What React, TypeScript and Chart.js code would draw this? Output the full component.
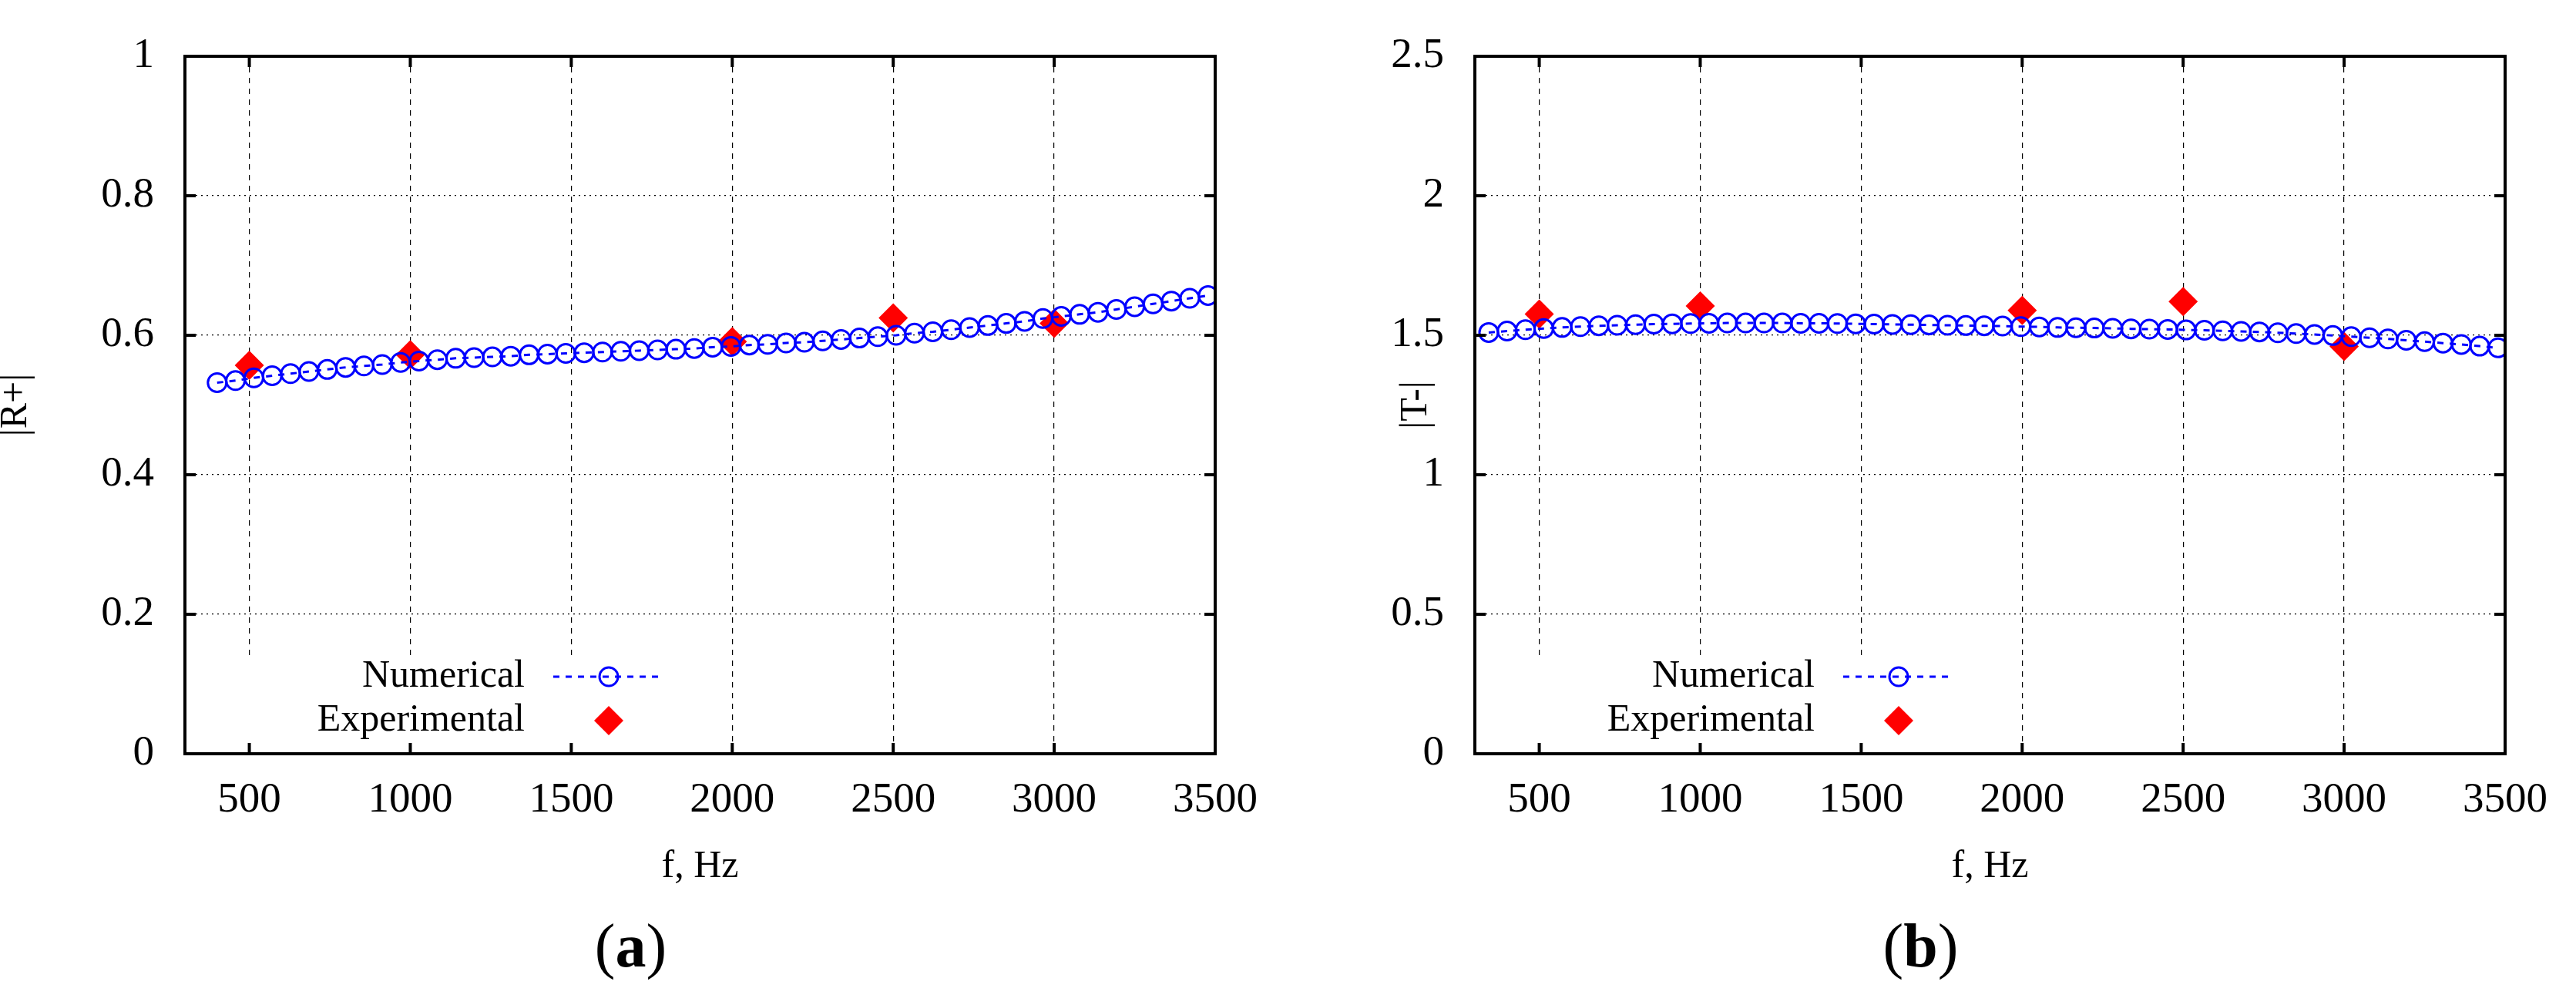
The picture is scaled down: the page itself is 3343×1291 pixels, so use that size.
import React, { useEffect, useRef } from "react";
import { Chart, registerables } from "chart.js";
Chart.register(...registerables);

const xTicks = [500, 1000, 1500, 2000, 2500, 3000, 3500];

const freqA = [400,457,514,571,628,685,742,799,856,913,970,1027,1084,1141,1198,1255,1312,1369,1426,1483,1540,1597,1654,1711,1768,1825,1882,1939,1996,2053,2110,2167,2224,2281,2338,2395,2452,2509,2566,2623,2680,2737,2794,2851,2908,2965,3022,3079,3136,3193,3250,3307,3364,3421,3478];
const numA = [0.532,0.535,0.539,0.542,0.545,0.548,0.551,0.554,0.556,0.558,0.561,0.563,0.565,0.567,0.568,0.569,0.570,0.572,0.573,0.574,0.575,0.576,0.577,0.578,0.579,0.580,0.581,0.583,0.584,0.586,0.587,0.589,0.590,0.592,0.594,0.596,0.598,0.600,0.603,0.605,0.608,0.611,0.614,0.617,0.620,0.624,0.627,0.630,0.633,0.637,0.641,0.645,0.649,0.653,0.657];

const freqB = [343,400,457,514,571,628,685,742,799,856,913,970,1027,1084,1141,1198,1255,1312,1369,1426,1483,1540,1597,1654,1711,1768,1825,1882,1939,1996,2053,2110,2167,2224,2281,2338,2395,2452,2509,2566,2623,2680,2737,2794,2851,2908,2965,3022,3079,3136,3193,3250,3307,3364,3421,3478];
const numB = [1.510,1.515,1.520,1.524,1.528,1.531,1.534,1.536,1.538,1.540,1.541,1.542,1.543,1.544,1.544,1.544,1.544,1.543,1.543,1.542,1.541,1.540,1.539,1.538,1.537,1.536,1.535,1.534,1.533,1.531,1.530,1.528,1.527,1.526,1.525,1.523,1.522,1.521,1.519,1.518,1.516,1.514,1.512,1.509,1.506,1.503,1.499,1.495,1.491,1.487,1.482,1.477,1.472,1.467,1.461,1.455];

const expFreq = [500, 1000, 2000, 2500, 3000];
const expA = [0.557, 0.572, 0.591, 0.625, 0.617];
const expB = [1.576, 1.605, 1.589, 1.621, 1.46];

const SERIF = "'Liberation Serif', 'DejaVu Serif', serif";
Chart.defaults.font.family = SERIF;

const fmt = (v: any) => String(Number(Number(v).toFixed(2)));

type PanelProps = {
  left: number; freq: number[]; num: number[]; exp: number[];
  yMax: number; yStep: number; yTitle: string; yTitleX: number; label: string;
};

function Panel(p: PanelProps) {
  const ref = useRef<HTMLCanvasElement>(null);
  useEffect(() => {
    const deco = {
      id: "deco",
      afterDatasetsDraw(chart: any) {
        const ctx = chart.ctx;
        const a = chart.chartArea;
        ctx.save();
        ctx.fillStyle = "#fff";
        ctx.fillRect(a.left + 2, a.bottom - 127, 660, 125);
        ctx.font = `50px ${SERIF}`;
        ctx.fillStyle = "#000";
        ctx.textAlign = "right";
        ctx.textBaseline = "middle";
        ctx.fillText("Numerical", a.left + 441, a.bottom - 100);
        ctx.fillText("Experimental", a.left + 441, a.bottom - 43);
        ctx.strokeStyle = "#0000ff";
        ctx.lineWidth = 3;
        ctx.setLineDash([8, 8]);
        ctx.beginPath();
        ctx.moveTo(a.left + 478, a.bottom - 100);
        ctx.lineTo(a.left + 622, a.bottom - 100);
        ctx.stroke();
        ctx.setLineDash([]);
        ctx.beginPath();
        ctx.arc(a.left + 550, a.bottom - 100, 12, 0, Math.PI * 2);
        ctx.stroke();
        ctx.fillStyle = "#ff0000";
        const cx = a.left + 550, cy = a.bottom - 43, r = 19;
        ctx.beginPath();
        ctx.moveTo(cx, cy - r); ctx.lineTo(cx + r, cy); ctx.lineTo(cx, cy + r); ctx.lineTo(cx - r, cy);
        ctx.closePath(); ctx.fill();
        ctx.restore();
      },
      afterDraw(chart: any) {
        const ctx = chart.ctx;
        const a = chart.chartArea;
        ctx.save();
        ctx.strokeStyle = "#000";
        ctx.lineWidth = 4;
        ctx.strokeRect(a.left, a.top, a.right - a.left, a.bottom - a.top);
        const xs = chart.scales.x, ys = chart.scales.y;
        ctx.beginPath();
        xTicks.slice(0, -1).forEach((v) => {
          const px = xs.getPixelForValue(v);
          ctx.moveTo(px, a.bottom); ctx.lineTo(px, a.bottom - 14);
          ctx.moveTo(px, a.top); ctx.lineTo(px, a.top + 14);
        });
        for (let v = p.yStep; v < p.yMax - 1e-9; v += p.yStep) {
          const py = ys.getPixelForValue(v);
          ctx.moveTo(a.left, py); ctx.lineTo(a.left + 14, py);
          ctx.moveTo(a.right, py); ctx.lineTo(a.right - 14, py);
        }
        ctx.stroke();
        ctx.fillStyle = "#000";
        ctx.textAlign = "center";
        ctx.textBaseline = "middle";
        ctx.font = `50px ${SERIF}`;
        ctx.fillText("f, Hz", (a.left + a.right) / 2, 1125);
        ctx.save();
        ctx.translate(p.yTitleX, (a.top + a.bottom) / 2);
        ctx.rotate(-Math.PI / 2);
        ctx.fillText(p.yTitle, 0, 0);
        ctx.restore();
        ctx.font = `80px ${SERIF}`;
        const cx = (a.left + a.right) / 2 - 90;
        const w1 = ctx.measureText("(").width;
        ctx.font = `bold 80px ${SERIF}`;
        const w2 = ctx.measureText(p.label).width;
        ctx.font = `80px ${SERIF}`;
        const total = 2 * w1 + w2;
        const x0 = cx - total / 2;
        ctx.textAlign = "left";
        ctx.fillText("(", x0, 1233);
        ctx.font = `bold 80px ${SERIF}`;
        ctx.fillText(p.label, x0 + w1, 1233);
        ctx.font = `80px ${SERIF}`;
        ctx.fillText(")", x0 + w1 + w2, 1233);
        ctx.restore();
      },
    };
    const chart = new Chart(ref.current!, {
      type: "scatter",
      data: {
        datasets: [
          {
            label: "Numerical",
            data: p.freq.map((f, i) => ({ x: f, y: p.num[i] })),
            showLine: true,
            borderColor: "#0000ff",
            borderWidth: 3,
            borderDash: [8, 8],
            pointStyle: "circle",
            pointRadius: 12,
            pointBorderWidth: 3,
            pointBorderColor: "#0000ff",
            pointBackgroundColor: "rgba(0,0,0,0)",
          },
          {
            label: "Experimental",
            data: expFreq.map((f, i) => ({ x: f, y: p.exp[i] })),
            showLine: false,
            pointStyle: "rectRot",
            pointRadius: 19,
            pointBorderWidth: 0,
            pointBackgroundColor: "#ff0000",
            pointBorderColor: "#ff0000",
          },
        ],
      },
      options: {
        animation: false,
        responsive: false,
        devicePixelRatio: 1,
        font: { family: SERIF },
        layout: { padding: { left: 0, top: 34, right: 57, bottom: 0 } },
        plugins: { legend: { display: false }, tooltip: { enabled: false } },
        scales: {
          x: {
            type: "linear", min: 300, max: 3500,
            afterBuildTicks: (s: any) => { s.ticks = xTicks.map((v) => ({ value: v })); },
            afterFit: (s: any) => { s.height = 313; },
            grid: { color: "#000", lineWidth: 1.2, drawTicks: false },
            border: { display: false, dash: [7, 7] },
            ticks: { padding: 28, color: "#000", font: { family: SERIF, size: 55, weight: "normal" }, maxRotation: 0, callback: fmt },
          },
          y: {
            type: "linear", min: 0, max: p.yMax,
            afterFit: (s: any) => { s.width = 240; },
            grid: { color: "#000", lineWidth: 1.2, drawTicks: false },
            border: { display: false, dash: [2, 5] },
            ticks: { stepSize: p.yStep, padding: 40, color: "#000", font: { family: SERIF, size: 55, weight: "normal" }, callback: fmt },
          },
        },
      },
      plugins: [deco],
    } as any);
    return () => chart.destroy();
  }, []);
  return (
    <canvas
      ref={ref}
      width={1660}
      height={1291}
      style={{ position: "absolute", left: p.left, top: 0, width: 1660, height: 1291 }}
    />
  );
}

export default function App() {
  return (
    <div style={{ position: "absolute", left: 0, top: 0, width: 3343, height: 1291, background: "#fff" }}>
      <Panel left={0} freq={freqA} num={numA} exp={expA} yMax={1} yStep={0.2} yTitle="|R+|" yTitleX={21} label="a" />
      <Panel left={1674} freq={freqB} num={numB} exp={expB} yMax={2.5} yStep={0.5} yTitle="|T-|" yTitleX={164} label="b" />
    </div>
  );
}
